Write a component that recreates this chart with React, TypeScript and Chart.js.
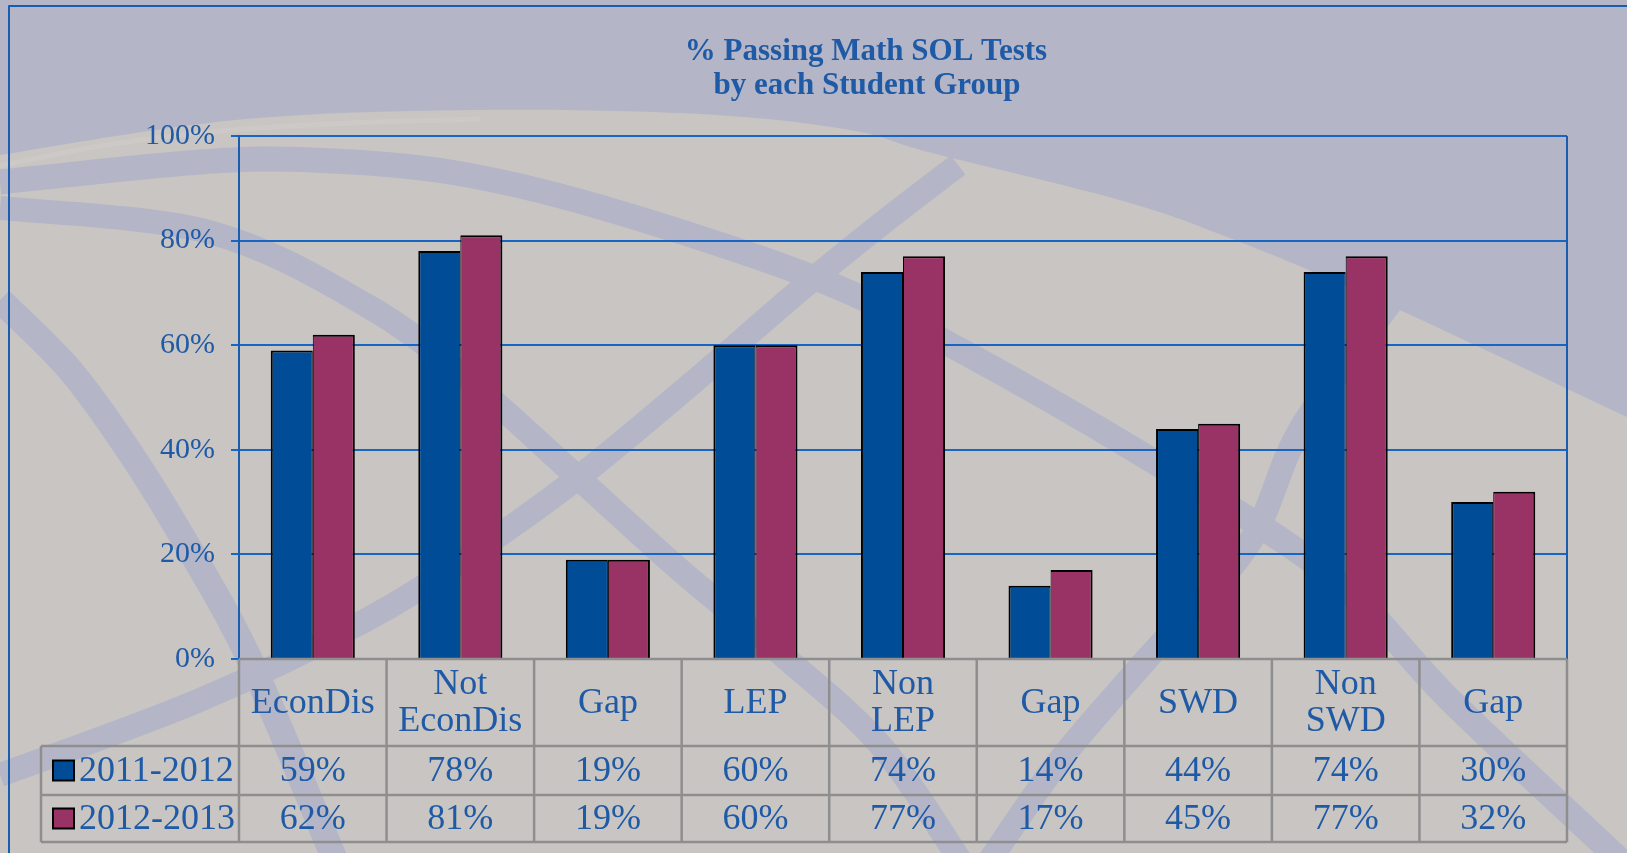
import React, { useEffect, useRef } from "react";
import { Chart, registerables } from "chart.js";

Chart.register(...registerables);

// ---------- data ----------
const categories: string[][] = [
  ["EconDis"],
  ["Not", "EconDis"],
  ["Gap"],
  ["LEP"],
  ["Non", "LEP"],
  ["Gap"],
  ["SWD"],
  ["Non", "SWD"],
  ["Gap"],
];
const seriesLabels = ["2011-2012", "2012-2013"];
const values2011_2012 = [59, 78, 19, 60, 74, 14, 44, 74, 30];
const values2012_2013 = [62, 81, 19, 60, 77, 17, 45, 77, 32];
const yTickValues = [0, 20, 40, 60, 80, 100];
const titleLines = ["% Passing Math SOL Tests", "by each Student Group"];

// ---------- styles ----------
const W = 1627;
const H = 853;
const SERIF = "'Liberation Serif', 'Times New Roman', serif";
const TEXT_BLUE = "#1F5AA6";
const GRID_BLUE = "#1766C4";
const AXIS_BLUE = "#1A5CAE";
const BAR_BLUE = "#004C97";
const BAR_PURPLE = "#993366";
const TABLE_GRAY = "#8E8E8E";
const LAV = "rgb(180,182,199)";
const WARM = "rgb(201,197,195)";

// decorative background shapes (slide theme, not data)
const topRegion: [number, number][] = [
  [0, 155], [235, 120], [470, 110], [700, 114], [850, 130], [932, 153],
  [1116, 199], [1222, 235], [1380, 301], [1627, 417],
];
const bands: { pts: [number, number][]; w: number }[] = [
  { pts: [[0, 182], [200, 162], [312, 160], [450, 172], [600, 207], [820, 280], [960, 350], [1143, 455], [1330, 575], [1450, 700], [1620, 860]], w: 25 },
  { pts: [[0, 208], [209, 232], [366, 305], [470, 381], [575, 475], [680, 570], [788, 660], [882, 747], [960, 860]], w: 24 },
  { pts: [[0, 300], [70, 370], [131, 454], [190, 550], [250, 660], [335, 860]], w: 26 },
  { pts: [[958, 165], [880, 225], [800, 290], [690, 385], [575, 480], [470, 555], [366, 620], [200, 700], [0, 775]], w: 24 },
  { pts: [[1400, 290], [1301, 428], [1248, 545], [1146, 660], [1060, 760], [990, 860]], w: 24 },
];

function smoothPath(ctx: CanvasRenderingContext2D, pts: [number, number][], move = true) {
  if (move) ctx.moveTo(pts[0][0], pts[0][1]);
  else ctx.lineTo(pts[0][0], pts[0][1]);
  for (let i = 0; i < pts.length - 1; i++) {
    const p0 = pts[i - 1] || pts[i];
    const p1 = pts[i];
    const p2 = pts[i + 1];
    const p3 = pts[i + 2] || p2;
    const c1x = p1[0] + (p2[0] - p0[0]) / 6;
    const c1y = p1[1] + (p2[1] - p0[1]) / 6;
    const c2x = p2[0] - (p3[0] - p1[0]) / 6;
    const c2y = p2[1] - (p3[1] - p1[1]) / 6;
    ctx.bezierCurveTo(c1x, c1y, c2x, c2y, p2[0], p2[1]);
  }
}

const decorPlugin = {
  id: "decor",
  beforeDraw(chart: any) {
    const ctx: CanvasRenderingContext2D = chart.ctx;
    ctx.save();
    ctx.fillStyle = WARM;
    ctx.fillRect(0, 0, W, H);
    // bands
    ctx.strokeStyle = LAV;
    ctx.lineCap = "butt";
    ctx.lineJoin = "round";
    for (const b of bands) {
      ctx.lineWidth = b.w;
      ctx.beginPath();
      smoothPath(ctx, b.pts);
      ctx.stroke();
    }
    // top lavender region
    ctx.fillStyle = LAV;
    ctx.beginPath();
    ctx.moveTo(0, 0);
    ctx.lineTo(W, 0);
    const rev = [...topRegion].reverse();
    smoothPath(ctx, rev, false);
    ctx.closePath();
    ctx.fill();
    // faint highlight under top region
    ctx.strokeStyle = "rgba(210,207,205,0.45)";
    ctx.lineWidth = 5;
    ctx.beginPath();
    smoothPath(ctx, [[0, 166], [100, 146], [220, 131], [350, 123], [480, 119]]);
    ctx.stroke();
    // outer slide frame
    ctx.strokeStyle = AXIS_BLUE;
    ctx.lineWidth = 2;
    ctx.beginPath();
    ctx.moveTo(9, H);
    ctx.lineTo(9, 6);
    ctx.lineTo(W, 6);
    ctx.stroke();
    // title
    ctx.fillStyle = TEXT_BLUE;
    ctx.font = `bold 31px ${SERIF}`;
    ctx.textAlign = "center";
    ctx.textBaseline = "middle";
    ctx.fillText(titleLines[0], 866, 52);
    ctx.fillText(titleLines[1], 867, 86);
    ctx.restore();
  },
  afterDraw(chart: any) {
    const ctx: CanvasRenderingContext2D = chart.ctx;
    const ca = chart.chartArea;
    const xs = chart.scales.x;
    const n = categories.length;
    const colW = xs.getPixelForValue(1) - xs.getPixelForValue(0);
    const left = ca.left;
    const right = ca.right;
    const top = ca.bottom;
    const headerBottom = top + 87;
    const row1Bottom = headerBottom + 49;
    const row2Bottom = row1Bottom + 47;
    const labelLeft = 41;

    ctx.save();
    // plot right border
    ctx.strokeStyle = AXIS_BLUE;
    ctx.lineWidth = 2;
    ctx.beginPath();
    ctx.moveTo(right, ca.top);
    ctx.lineTo(right, ca.bottom);
    ctx.stroke();

    // table lines
    ctx.strokeStyle = TABLE_GRAY;
    ctx.lineWidth = 2.5;
    ctx.beginPath();
    ctx.moveTo(left, top);
    ctx.lineTo(right, top);
    for (const y of [headerBottom, row1Bottom, row2Bottom]) {
      ctx.moveTo(labelLeft, y);
      ctx.lineTo(right, y);
    }
    ctx.moveTo(labelLeft, headerBottom);
    ctx.lineTo(labelLeft, row2Bottom);
    for (let i = 0; i <= n; i++) {
      const x = i === n ? right : xs.getPixelForValue(i) - colW / 2;
      ctx.moveTo(x, top);
      ctx.lineTo(x, row2Bottom);
    }
    ctx.stroke();

    // text
    ctx.fillStyle = TEXT_BLUE;
    ctx.font = `36px ${SERIF}`;
    ctx.textAlign = "center";
    ctx.textBaseline = "middle";
    const hc = (top + headerBottom) / 2;
    const lineGap = 37;
    categories.forEach((lines, i) => {
      const cx = xs.getPixelForValue(i);
      lines.forEach((t, j) => {
        const y = hc + (j - (lines.length - 1) / 2) * lineGap;
        ctx.fillText(t, cx, y + 1);
      });
    });
    const rows = [
      { vals: values2011_2012, color: BAR_BLUE, label: seriesLabels[0], cy: (headerBottom + row1Bottom) / 2 },
      { vals: values2012_2013, color: BAR_PURPLE, label: seriesLabels[1], cy: (row1Bottom + row2Bottom) / 2 },
    ];
    for (const r of rows) {
      ctx.fillStyle = TEXT_BLUE;
      ctx.textAlign = "center";
      r.vals.forEach((v, i) => {
        ctx.fillText(`${v}%`, xs.getPixelForValue(i), r.cy + 1);
      });
      ctx.textAlign = "left";
      ctx.fillText(r.label, 79, r.cy + 1);
      ctx.fillStyle = r.color;
      ctx.fillRect(53, r.cy - 10, 21, 20);
      ctx.strokeStyle = "#000";
      ctx.lineWidth = 2;
      ctx.strokeRect(53, r.cy - 10, 21, 20);
    }
    ctx.restore();
  },
};

export default function App() {
  const ref = useRef<HTMLCanvasElement | null>(null);
  useEffect(() => {
    if (!ref.current) return;
    const chart = new Chart(ref.current, {
      type: "bar",
      data: {
        labels: categories,
        datasets: [
          {
            label: seriesLabels[0],
            data: values2011_2012,
            backgroundColor: BAR_BLUE,
            borderColor: "#000",
            borderWidth: { top: 2, left: 2, right: 1, bottom: 0 } as any,
          },
          {
            label: seriesLabels[1],
            data: values2012_2013,
            backgroundColor: BAR_PURPLE,
            borderColor: "#000",
            borderWidth: { top: 2, left: 1, right: 2, bottom: 0 } as any,
          },
        ],
      },
      options: {
        responsive: false,
        animation: false,
        devicePixelRatio: 1,
        datasets: { bar: { categoryPercentage: 0.57, barPercentage: 1 } },
        layout: { padding: { top: 136, bottom: H - 659, left: 0, right: W - 1567 } },
        plugins: {
          legend: { display: false },
          title: { display: false },
          tooltip: { enabled: false },
        },
        scales: {
          x: { display: false, offset: true },
          y: {
            min: 0,
            max: 100,
            afterBuildTicks: (s: any) => {
              s.ticks = yTickValues.map((v) => ({ value: v }));
            },
            afterFit: (s: any) => {
              s.width = 239;
              s.paddingTop = 0;
              s.paddingBottom = 0;
            },
            ticks: {
              callback: (v: any) => `${v}%`,
              color: TEXT_BLUE,
              font: { family: SERIF, size: 30 },
              padding: 16,
            },
            grid: { color: GRID_BLUE, lineWidth: 2, tickLength: 8, drawTicks: true, tickColor: GRID_BLUE },
            border: { display: true, color: AXIS_BLUE, width: 2 },
          },
        },
      },
      plugins: [decorPlugin],
    });
    return () => chart.destroy();
  }, []);
  return (
    <div style={{ position: "absolute", left: 0, top: 0, width: W, height: H }}>
      <canvas ref={ref} width={W} height={H} style={{ display: "block" }} />
    </div>
  );
}
